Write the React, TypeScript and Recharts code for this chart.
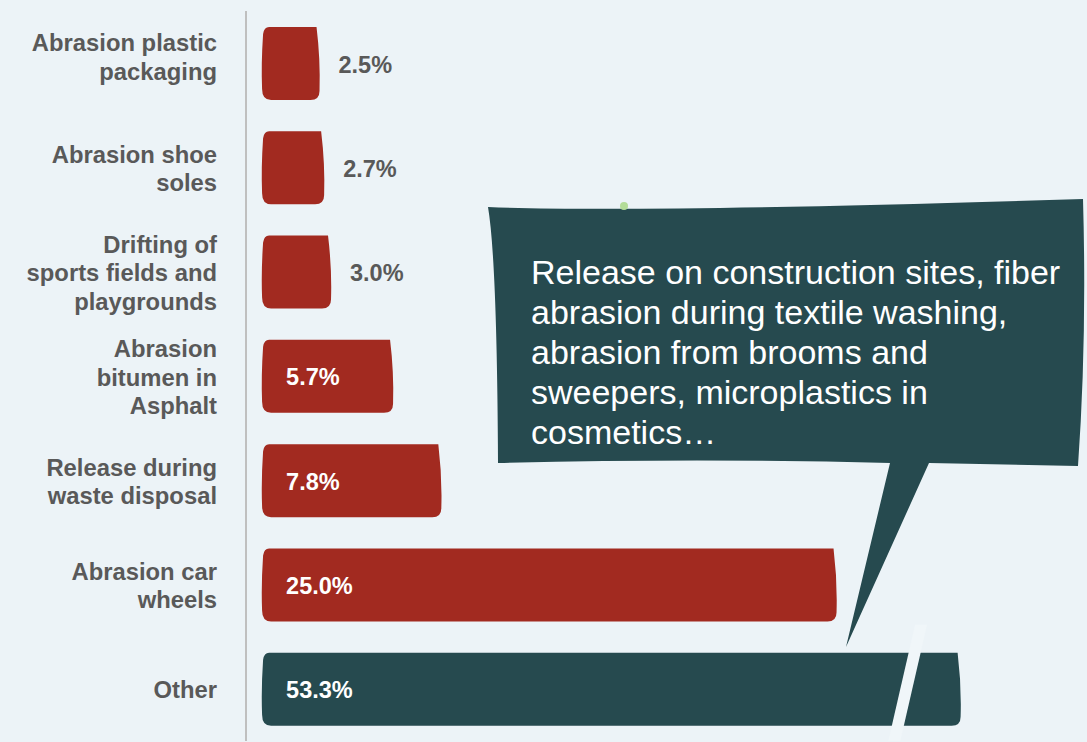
import { BarChart, Bar, XAxis, YAxis, LabelList } from 'recharts'

// category labels (\n = line break as in the source)
const categories = [
  'Abrasion plastic\npackaging',
  'Abrasion shoe\nsoles',
  'Drifting of\nsports fields and\nplaygrounds',
  'Abrasion\nbitumen in\nAsphalt',
  'Release during\nwaste disposal',
  'Abrasion car\nwheels',
  'Other',
]
const shares = [2.5, 2.7, 3.0, 5.7, 7.8, 25.0, 53.3]
const highlighted = 'Other'
// bars longer than this are drawn cut, with a break mark
const axisBreak = 30.4
const calloutLines = [
  'Release on construction sites, fiber',
  'abrasion during textile washing,',
  'abrasion from brooms and',
  'sweepers, microplastics in',
  'cosmetics…',
]

const RED = '#A22A20'
const TEAL = '#264A4F'
const BG = '#ECF3F7'
const LABEL = '#595959'
const FONT = '"Liberation Sans", Arial, sans-serif'

const data = categories.map((name, i) => ({
  name,
  value: shares[i],
  shown: Math.min(shares[i], axisBreak),
  broken: shares[i] > axisBreak,
}))

function SketchBar(props: any) {
  const { x, y, width: w, height: h, payload } = props
  const fill = payload.name === highlighted ? TEAL : RED
  const d = [
    `M ${x + 7} ${y}`,
    `L ${x + w - 3} ${y}`,
    `Q ${x + w + 1} ${y + h * 0.45} ${x + w} ${y + h - 9}`,
    `Q ${x + w} ${y + h} ${x + w - 9} ${y + h}`,
    `L ${x + 9} ${y + h}`,
    `Q ${x} ${y + h} ${x} ${y + h - 11}`,
    `Q ${x - 1} ${y + h * 0.5} ${x + 1} ${y + 7}`,
    `Q ${x + 2} ${y} ${x + 7} ${y} Z`,
  ].join(' ')
  if (!payload.broken) return <path d={d} fill={fill} />

  // diagonal break mark near the bar end
  const slope = 0.23
  const top = y - 28
  const bottom = y + h + 15
  const xTop = x + w - 52 + slope * 28
  const xBot = x + w - 52 - slope * (h + 15)
  return (
    <g>
      <path d={d} fill={fill} />
      <polygon
        points={`${xTop},${top} ${xTop + 12},${top} ${xBot + 12},${bottom} ${xBot},${bottom}`}
        fill="#F0F6F9"
      />
    </g>
  )
}

function CategoryTick(props: any) {
  const { y, payload, index } = props
  const lines = String(payload.value).split('\n')
  const step = 28.5
  const nudge = index === 0 ? -7 : 0
  return (
    <text textAnchor="end" fill={LABEL} fontFamily={FONT} fontWeight={700} fontSize={23.8}>
      {lines.map((line, i) => (
        <tspan key={i} x={217} y={y + 9.5 + nudge + (i - (lines.length - 1) / 2) * step}>
          {line}
        </tspan>
      ))}
    </text>
  )
}

function ValueLabel(props: any) {
  const { x, y, width, height, value } = props
  const inside = value >= 5
  const tx = inside ? x + 24 : x + width + 19
  return (
    <text
      x={tx}
      y={y + height / 2 + 9}
      textAnchor="start"
      fill={inside ? '#FFFFFF' : LABEL}
      fontFamily={FONT}
      fontWeight={700}
      fontSize={23.5}
    >
      {`${Number(value).toFixed(1)}%`}
    </text>
  )
}

export default function App() {
  return (
    <div
      style={{
        position: 'absolute',
        left: 0,
        top: 0,
        width: 1087,
        height: 742,
        background: BG,
        overflow: 'hidden',
        fontFamily: FONT,
      }}
    >
      <BarChart
        width={1087}
        height={742}
        data={data}
        layout="vertical"
        margin={{ top: 11, right: 0, bottom: 1, left: 0 }}
      >
        <XAxis type="number" hide domain={[-0.7, 35.9]} allowDataOverflow />
        <YAxis
          type="category"
          dataKey="name"
          width={246}
          tickLine={false}
          axisLine={{ stroke: '#BFBFBF', strokeWidth: 2 }}
          tick={<CategoryTick />}
          interval={0}
        />
        <Bar dataKey="shown" barSize={73} shape={<SketchBar />} isAnimationActive={false}>
          <LabelList dataKey="value" content={<ValueLabel />} />
        </Bar>
      </BarChart>

      <svg width={1087} height={742} style={{ position: 'absolute', left: 0, top: 0 }}>
        <path
          d={[
            'M 488 207',
            'Q 640 213 1083 199',
            'Q 1087 340 1078 466',
            'L 929 463',
            'L 846 647',
            'L 890 463',
            'Q 700 458 498 463',
            'Q 497 260 488 207 Z',
          ].join(' ')}
          fill={TEAL}
        />
        <circle cx={624} cy={206} r={4} fill="#B3DC98" />
        <text fill="#FFFFFF" fontFamily={FONT} fontSize={34}>
          {calloutLines.map((line, i) => (
            <tspan key={i} x={531} y={284 + i * 40}>
              {line}
            </tspan>
          ))}
        </text>
      </svg>
    </div>
  )
}
